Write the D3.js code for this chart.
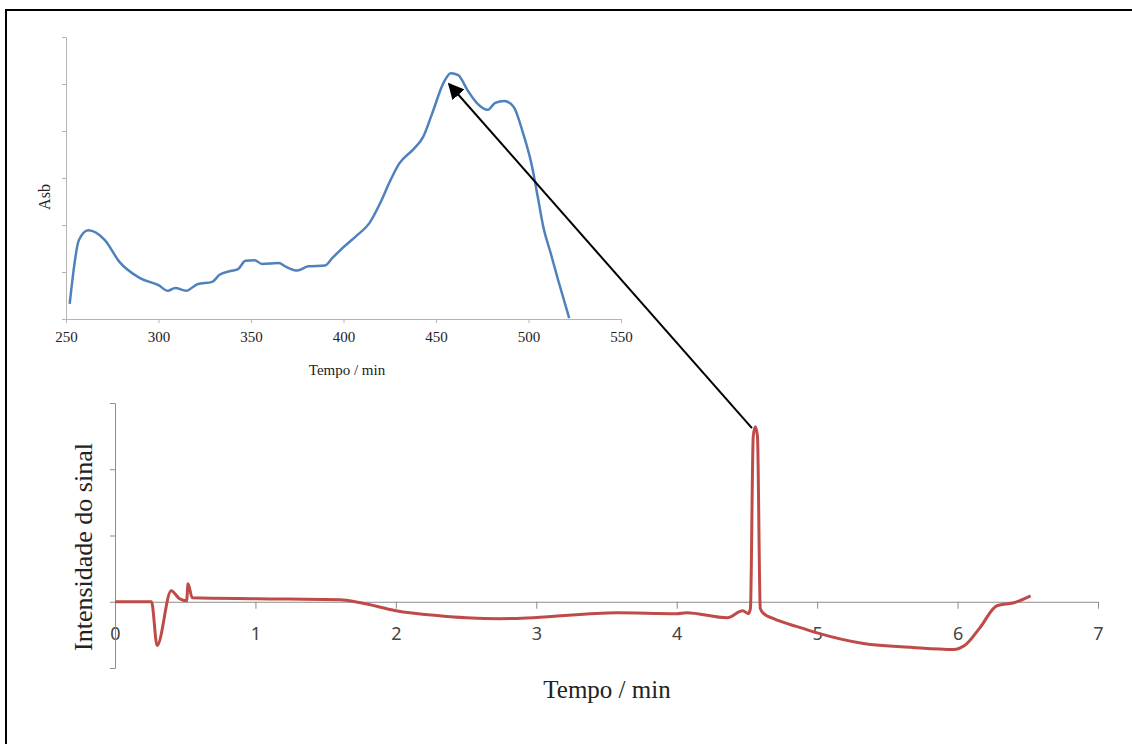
<!DOCTYPE html>
<html>
  <head>
    <meta charset="utf-8">
    <script src="https://d3js.org/d3.v7.min.js"></script>
    <title>Cromatograma e espectro</title>
    <style>
      body { margin: 0px; background: #fff; }
    </style>
  </head>
  <body>
    <svg width="1132" height="744"></svg>
    <script>
      // inset spectrum (blue)
      const specX = [252, 257, 262, 271, 279, 290, 300, 305, 309, 315, 321, 329, 333, 339, 343, 347, 352, 356, 365, 369, 375, 381, 390, 394, 400, 407, 414, 420, 425, 430, 438, 443, 448, 454, 458, 462, 467, 472, 478, 482, 487, 492, 497, 502, 505, 508, 512, 516, 522];
      const specY = [0.032, 0.168, 0.189, 0.168, 0.121, 0.087, 0.072, 0.060, 0.066, 0.060, 0.074, 0.079, 0.094, 0.102, 0.106, 0.124, 0.125, 0.117, 0.119, 0.111, 0.103, 0.112, 0.114, 0.130, 0.153, 0.177, 0.204, 0.248, 0.292, 0.330, 0.362, 0.387, 0.438, 0.502, 0.523, 0.519, 0.487, 0.460, 0.445, 0.460, 0.464, 0.451, 0.396, 0.323, 0.260, 0.196, 0.140, 0.083, 0.002];
      const specTicksX = [250, 300, 350, 400, 450, 500, 550];
      const specTicksY = [0, 0.1, 0.2, 0.3, 0.4, 0.5, 0.6];

      // main chromatogram (red)
      const chromT = [0, 0.26, 0.30, 0.40, 0.46, 0.51, 0.52, 0.55, 1.01, 1.6, 1.75, 2.0, 2.31, 2.5, 2.74, 2.98, 3.57, 4.0, 4.07, 4.36, 4.47, 4.51, 4.525, 4.545, 4.56, 4.575, 4.595, 4.62, 4.69, 4.88, 5.0, 5.33, 5.68, 5.97, 6.05, 6.16, 6.28, 6.40, 6.52];
      const chromV = [0, 0, -0.66, 0.165, 0.045, 0.015, 0.27, 0.06, 0.045, 0.03, -0.015, -0.135, -0.21, -0.24, -0.255, -0.24, -0.165, -0.18, -0.165, -0.24, -0.135, -0.18, -0.1, 2.5, 2.64, 2.5, -0.1, -0.18, -0.255, -0.39, -0.47, -0.63, -0.69, -0.72, -0.66, -0.39, -0.06, -0.015, 0.09];
      const chromTicksX = [0, 1, 2, 3, 4, 5, 6, 7];
      const chromTicksY = [-1, 0, 1, 2, 3];

      const serif = '"Liberation Serif", "Times New Roman", serif';
      const sans = '"Noto Sans", "Open Sans", sans-serif';
      const axisGrey = '#8c8c8c';

      const svg = d3.select('svg');

      // frame
      svg.append('rect')
        .attr('x', 6).attr('y', 10)
        .attr('width', 1140).attr('height', 760)
        .attr('fill', 'none')
        .attr('stroke', '#000')
        .attr('stroke-width', 2);

      // ---- inset ----
      const sx = d3.scaleLinear().domain([250, 550]).range([66, 621]);
      const sy = d3.scaleLinear().domain([0, 0.6]).range([319, 37]);

      const sxAxisG = svg.append('g')
        .attr('transform', `translate(0, ${sy(0)})`)
        .call(d3.axisBottom(sx).tickValues(specTicksX).tickSize(4).tickSizeOuter(0).tickPadding(8));
      const syAxisG = svg.append('g')
        .attr('transform', `translate(${sx(250)}, 0)`)
        .call(d3.axisLeft(sy).tickValues(specTicksY).tickFormat('').tickSize(4).tickSizeOuter(0));

      [sxAxisG, syAxisG].forEach(g => {
        g.select('.domain').attr('stroke', '#b5b5b5');
        g.selectAll('.tick line').attr('stroke', '#b5b5b5');
        g.selectAll('text')
          .style('font-family', serif)
          .style('font-size', '15px')
          .attr('fill', '#222');
      });

      const specLine = d3.line()
        .x((d, i) => sx(specX[i]))
        .y(d => sy(d))
        .curve(d3.curveMonotoneX);

      svg.append('path')
        .datum(specY)
        .attr('d', specLine)
        .attr('fill', 'none')
        .attr('stroke', '#4f81bd')
        .attr('stroke-width', 2.5);

      svg.append('text')
        .attr('x', 347).attr('y', 375)
        .attr('text-anchor', 'middle')
        .style('font-family', serif)
        .style('font-size', '15px')
        .attr('fill', '#222')
        .text('Tempo / min');

      svg.append('text')
        .attr('transform', 'translate(50, 197) rotate(-90)')
        .attr('text-anchor', 'middle')
        .style('font-family', serif)
        .style('font-size', '16px')
        .attr('fill', '#222')
        .text('Asb');

      // ---- main chart ----
      const x = d3.scaleLinear().domain([0, 7]).range([115, 1098]);
      const y = d3.scaleLinear().domain([-1, 3]).range([668, 403]);

      const xAxisG = svg.append('g')
        .attr('transform', `translate(0, ${y(0)})`)
        .call(d3.axisBottom(x).tickValues(chromTicksX).tickFormat(d3.format('d')).tickSize(7).tickSizeOuter(0).tickPadding(18));
      const yAxisG = svg.append('g')
        .attr('transform', `translate(${x(0)}, 0)`)
        .call(d3.axisLeft(y).tickValues(chromTicksY).tickFormat('').tickSize(5).tickSizeOuter(0));

      [xAxisG, yAxisG].forEach(g => {
        g.select('.domain').attr('stroke', axisGrey);
        g.selectAll('.tick line').attr('stroke', axisGrey);
        g.selectAll('text')
          .style('font-family', sans)
          .style('font-size', '18px')
          .attr('fill', '#444');
      });

      const chromLine = d3.line()
        .x((d, i) => x(chromT[i]))
        .y(d => y(d))
        .curve(d3.curveMonotoneX);

      svg.append('path')
        .datum(chromV)
        .attr('d', chromLine)
        .attr('fill', 'none')
        .attr('stroke', '#be4b48')
        .attr('stroke-width', 3)
        .attr('stroke-linejoin', 'round');

      svg.append('text')
        .attr('x', 607).attr('y', 698)
        .attr('text-anchor', 'middle')
        .style('font-family', serif)
        .style('font-size', '25px')
        .attr('fill', '#222')
        .text('Tempo / min');

      svg.append('text')
        .attr('transform', 'translate(92, 547) rotate(-90)')
        .attr('text-anchor', 'middle')
        .style('font-family', serif)
        .style('font-size', '26px')
        .attr('fill', '#222')
        .text('Intensidade do sinal');

      // ---- arrow from the peak to the spectrum maximum ----
      svg.append('defs').append('marker')
        .attr('id', 'head')
        .attr('viewBox', '0 0 10 10')
        .attr('refX', 9).attr('refY', 5)
        .attr('markerWidth', 8).attr('markerHeight', 8)
        .attr('orient', 'auto')
        .append('path')
        .attr('d', 'M0,0 L10,5 L0,10 Z')
        .attr('fill', '#000');

      svg.append('line')
        .attr('x1', x(4.55) - 2).attr('y1', y(2.62))
        .attr('x2', sx(457)).attr('y2', sy(0.50))
        .attr('stroke', '#000')
        .attr('stroke-width', 2)
        .attr('marker-end', 'url(#head)');
    </script>
  </body>
</html>
